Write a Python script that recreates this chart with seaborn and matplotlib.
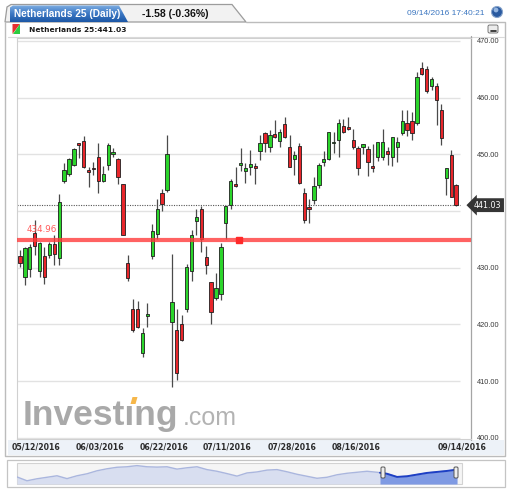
import numpy as np
import matplotlib
matplotlib.use("Agg")
import matplotlib.pyplot as plt
import seaborn as sns
from matplotlib.patches import Polygon, Rectangle, FancyBboxPatch, Circle
from matplotlib.colors import LinearSegmentedColormap
from matplotlib.transforms import blended_transform_factory

# =============================================================================
# Data
# =============================================================================
opens = [432.1, 428.3, 429.7, 436.2, 429.5, 432.1, 432.2, 434.1, 431.7, 445.3,
         446.6, 448.2, 451.9, 452.4, 447.2, 447.6, 449.6, 445.3, 448.1, 450.1,
         449.2, 444.7, 430.8, 422.7, 422.7, 415.0, 421.5, 432.1, 436.0, 443.2,
         443.7, 420.5, 419.1, 420.1, 422.7, 429.5, 438.3, 440.3, 431.9, 427.4,
         424.6, 425.4, 437.8, 441.0, 444.7, 448.2, 447.1, 447.7, 447.9, 450.6,
         453.7, 451.2, 453.6, 452.4, 455.3, 451.3, 449.1, 451.5, 443.1, 440.7,
         441.9, 444.6, 448.7, 449.1, 452.0, 452.6, 455.0, 454.9, 452.6, 451.1,
         451.2, 450.9, 448.0, 449.5, 449.6, 450.5, 449.6, 451.3, 453.7, 455.6,
         455.8, 455.5, 465.2, 465.0, 462.0, 462.0, 457.8, 445.8, 449.9, 444.6]
highs = [433.1, 433.7, 434.2, 438.4, 434.6, 433.7, 434.5, 435.8, 443.0, 448.5,
         449.3, 451.1, 452.0, 453.2, 447.8, 448.7, 452.0, 448.0, 452.0, 451.1,
         449.4, 444.7, 432.2, 424.4, 424.2, 419.3, 423.7, 437.7, 442.1, 443.8,
         453.4, 432.5, 422.7, 421.7, 430.6, 436.7, 440.3, 440.8, 433.8, 427.4,
         429.1, 434.3, 440.9, 445.6, 447.8, 451.1, 448.5, 450.8, 448.5, 453.4,
         454.0, 454.2, 456.0, 454.4, 456.6, 453.4, 450.6, 452.0, 444.0, 442.1,
         446.0, 448.4, 450.5, 454.0, 454.0, 456.3, 456.3, 456.5, 454.4, 451.5,
         451.8, 451.5, 451.9, 452.2, 454.4, 451.3, 453.0, 453.1, 457.8, 457.8,
         457.5, 464.6, 466.3, 465.5, 463.6, 462.5, 458.9, 447.5, 450.7, 444.8]
lows = [430.2, 427.0, 428.4, 432.2, 428.4, 427.2, 431.7, 430.5, 430.5, 444.9,
        446.2, 447.9, 449.4, 447.5, 444.3, 446.3, 443.2, 445.2, 447.2, 449.6,
        444.7, 435.8, 427.7, 418.7, 419.3, 414.3, 419.6, 431.5, 435.0, 440.0,
        443.4, 409.0, 410.2, 417.0, 422.2, 427.7, 435.8, 432.8, 428.9, 420.0,
        424.3, 424.3, 435.0, 440.3, 444.3, 447.1, 445.0, 446.3, 444.7, 449.0,
        450.4, 450.4, 452.9, 451.3, 452.9, 447.8, 446.4, 444.7, 437.9, 437.8,
        441.2, 444.0, 448.0, 449.0, 450.2, 449.6, 453.7, 454.2, 450.9, 446.3,
        450.0, 446.1, 446.9, 448.9, 449.0, 448.1, 448.0, 448.7, 453.4, 453.2,
        452.5, 455.2, 464.0, 460.8, 461.4, 455.2, 451.6, 442.8, 442.5, 440.8]
closes = [430.8, 433.4, 433.7, 433.8, 434.3, 428.3, 434.2, 432.4, 441.5, 447.2,
          449.1, 450.9, 451.7, 447.8, 446.8, 447.4, 445.3, 446.5, 451.6, 450.3,
          446.0, 435.8, 428.1, 419.0, 419.5, 418.4, 421.7, 436.5, 440.3, 441.2,
          450.0, 424.0, 411.5, 417.3, 430.1, 435.8, 438.9, 435.0, 430.4, 422.1,
          426.4, 433.7, 440.9, 445.3, 444.4, 448.4, 447.6, 448.3, 447.5, 452.0,
          452.0, 453.4, 453.0, 454.0, 453.0, 447.8, 449.9, 445.0, 438.5, 440.4,
          444.4, 448.1, 449.1, 453.9, 452.2, 455.5, 454.0, 454.4, 451.3, 447.5,
          451.8, 448.7, 447.6, 452.2, 452.2, 450.1, 453.0, 452.2, 455.9, 454.3,
          453.8, 463.7, 464.2, 461.2, 463.2, 459.5, 452.8, 447.5, 442.5, 441.03]

date_labels = ["05/12/2016", "06/03/2016", "06/22/2016", "07/11/2016",
               "07/28/2016", "08/16/2016", "09/14/2016"]
date_label_pos = [3.3, 16.3, 29.4, 42.2, 55.5, 68.5, 90.3]

price_ticks = [400, 410, 420, 430, 450, 460, 470]
grid_levels = [400, 410, 420, 430, 440, 450, 460, 470]
level_line = 434.96
last_price = 441.03

# navigator (long history, weekly-ish samples)
nav_values = [421, 398, 410, 419, 428, 411, 428, 440, 458, 470,
              479, 482, 489, 482, 480, 482, 468, 476, 482, 465,
              455, 441, 426, 445, 451, 462, 465, 452, 437, 425,
              413, 419, 434, 443, 449, 455, 449, 440, 421, 425,
              435, 445, 451, 457, 465]

# =============================================================================
# Figure
# =============================================================================
sns.set_style("white")
plt.rcParams['font.family'] = ['DejaVu Sans']

W, H = 512, 494
fig = plt.figure(figsize=(W / 100, H / 100), dpi=100)


def fx(px):
    return px / W


def fy(py):
    return 1 - py / H


# background / frame layer in pixel coordinates
bg = fig.add_axes([0, 0, 1, 1], zorder=0)
bg.set_xlim(0, W)
bg.set_ylim(H, 0)
bg.axis('off')

# panel
bg.add_patch(Rectangle((5, 22), 500, 434, fc='white', ec='none'))
bg.plot([5, 5, 505, 505, 246], [22, 456, 456, 22, 22], color='#bcbcbc', lw=1)
bg.add_patch(Rectangle((8, 440), 496, 15, fc='#edf2f8', ec='none'))
bg.plot([8, 504], [37, 37], color='#dadada', lw=0.8)
bg.plot([471, 471], [36, 440], color='#a5a5a5', lw=0.9)

# header tabs
bg.add_patch(Polygon([(5, 22), (7, 7), (11, 4.5), (232, 4.5), (246, 22)],
                     closed=True, fc='#f2f2f2', ec='#9c9c9c', lw=0.9, zorder=1))
tab = Polygon([(10, 22), (10, 7.5), (13, 5.5), (119, 5.5), (128, 22)],
              closed=True, fc='none', ec='none', transform=bg.transData)
bg.add_patch(tab)
blue = LinearSegmentedColormap.from_list('tab', ['#7eaee2', '#3c78c4', '#1c57a6'])
grad = np.linspace(0, 1, 64).reshape(-1, 1)
im = bg.imshow(grad, cmap=blue, extent=(10, 130, 22, 5), aspect='auto',
               origin='upper', zorder=2)
im.set_clip_path(tab)
bg.set_xlim(0, W)
bg.set_ylim(H, 0)

bg.text(14, 14, "Netherlands 25 (Daily)", color='white', fontsize=7.3,
        fontweight='bold', family='Liberation Sans', va='center', zorder=3)
bg.text(142, 14, "-1.58 (-0.36%)", color='#111111', fontsize=7.6,
        fontweight='bold', family='Liberation Sans', va='center', zorder=3)
bg.text(407, 13.5, "09/14/2016 17:40:21", color='#3b76c0', fontsize=6,
        family='Liberation Sans', va='center')
bg.add_patch(Circle((497, 12), 5.5, fc='#2a5aa0', ec='#8aa6cc', lw=0.8))
bg.add_patch(Circle((496, 10), 2.4, fc='#a8c6ec', ec='none', alpha=0.85))

# second row
bg.add_patch(Polygon([(12.5, 24), (20, 24), (12.5, 34)], closed=True, fc='#e53030', ec='none'))
bg.add_patch(Polygon([(20, 24), (20, 34), (12.5, 34)], closed=True, fc='#2ecc40', ec='none'))
bg.text(29, 29.5, "Netherlands 25:441.03", fontsize=5.4, fontweight='bold',
        color='#1a1a1a', va='center')
bg.add_patch(FancyBboxPatch((488, 25), 10, 8, boxstyle='round,pad=0,rounding_size=1.5',
                            fc='#ececec', ec='#666666', lw=0.6))
bg.plot([490.5, 495.5], [31, 31], color='#222222', lw=1.2)

# watermark
bg.text(23, 425, "Investıng", fontsize=25.5, fontweight='bold',
        family='Liberation Sans', color='#a9a9a9', va='baseline')
bg.text(183, 425, ".com", fontsize=18, family='Liberation Sans',
        color='#b3b3b3', va='baseline')
bg.add_patch(Polygon([(130.5, 404), (135.5, 404), (137.5, 397), (132.5, 397)],
                     closed=True, fc='#f6b74a', ec='none'))

# navigator frame
bg.add_patch(Rectangle((7, 460), 498, 27, fc='white', ec='#c4c4c4', lw=0.9))
bg.add_patch(Rectangle((17, 463), 445, 21, fc='#f5f5f5', ec='#d2d2d2', lw=0.8))

# =============================================================================
# Main candlestick axes
# =============================================================================
ax = fig.add_axes([fx(17), fy(439), fx(471) - fx(17), fy(38) - fy(439)], zorder=2)
ax.set_facecolor('none')
ax.set_xlim(-0.612, 92.04)
ax.set_ylim(399.79, 470.51)

ax.hlines(grid_levels, -0.612, 89.8, color='#e2e2e2', lw=1, zorder=0)
ax.hlines(last_price, -0.612, 89.8, color='#555555', lw=0.8,
          linestyles=(0, (1, 1.2)), zorder=1)

o = np.array(opens)
c = np.array(closes)
idx = np.arange(len(o))
up = c >= o
ax.vlines(idx, lows, highs, color='#4a4a4a', lw=0.9, zorder=2)
body_bottom = np.minimum(o, c)
body_h = np.maximum(np.abs(c - o), 0.25)
ax.bar(idx, body_h, bottom=body_bottom, width=0.66,
       color=np.where(up, '#2bd52b', '#e8262b'), edgecolor='#1e1e1e',
       linewidth=0.6, zorder=3)

ax.axhline(level_line, color='#ff3b3b', alpha=0.8, lw=3, zorder=4)
ax.plot([44.6], [level_line], marker='s', ms=4.5, color='#ff2a2a', zorder=5)
ax.text(4.5, level_line + 1.7, f"{level_line:.2f}", color='#ff5a5a',
        fontsize=6.3, ha='center', va='center', zorder=5)

ax.yaxis.tick_right()
ax.set_yticks(price_ticks)
ax.set_yticklabels([f"{v:.2f}" for v in price_ticks], family='Liberation Sans')
ax.tick_params(axis='y', length=0, pad=4.5, labelsize=5.3, labelcolor='#3a3a3a')
ax.set_xticks([])
for side in ['left', 'top', 'bottom']:
    ax.spines[side].set_color('#d0d0d0')
    ax.spines[side].set_linewidth(0.8)
ax.spines['right'].set_visible(False)

trans_y = blended_transform_factory(ax.transAxes, ax.transData)
ax.text(1.037, last_price, f"{last_price:.2f}", transform=trans_y, color='white',
        fontsize=5.8, ha='center', va='center', clip_on=False, zorder=6,
        bbox=dict(boxstyle='larrow,pad=0.3', fc='#353535', ec='none'))

trans_x = blended_transform_factory(ax.transData, ax.transAxes)
for pos, lab in zip(date_label_pos, date_labels):
    ax.text(pos, -0.02, lab, transform=trans_x, ha='center', va='center',
            fontsize=5.6, fontweight='bold', color='#2b2b2b', clip_on=False)

# =============================================================================
# Navigator
# =============================================================================
nav = fig.add_axes([fx(17), fy(484), fx(462) - fx(17), fy(463) - fy(484)], zorder=2)
nav.set_facecolor('none')
nav_x = np.arange(len(nav_values))
nav.fill_between(nav_x, nav_values, 378.6, color='#d8def0', lw=0)
sns.lineplot(x=nav_x, y=nav_values, ax=nav, color='#aab6de', lw=1)
hx = np.concatenate([[36.3], nav_x[nav_x > 36.3]])
hy = np.interp(hx, nav_x, nav_values)
nav.fill_between(hx, hy, 378.6, color='#7f9ae3', lw=0)
nav.plot(hx, hy, color='#1d3fc4', lw=1.4)
nav.set_xlim(0, 44.5)
nav.set_ylim(378.6, 504.6)
nav.axis('off')

hand = fig.add_axes([0, 0, 1, 1], zorder=3)
hand.set_xlim(0, W)
hand.set_ylim(H, 0)
hand.axis('off')
for hxp in [383, 456]:
    hand.add_patch(FancyBboxPatch((hxp - 2, 467), 4, 11,
                                  boxstyle='round,pad=0,rounding_size=1.2',
                                  fc='#eeeeee', ec='#555555', lw=0.7))

fig.savefig('out.png', dpi=100)
